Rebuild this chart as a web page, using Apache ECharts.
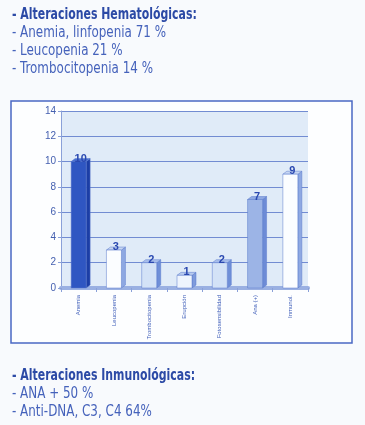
<!DOCTYPE html>
<html><head><meta charset="utf-8">
<script src="https://cdn.jsdelivr.net/npm/echarts@6/dist/echarts.min.js"></script>
<style>html,body{margin:0;padding:0;background:#f8fafd;}#c{width:365px;height:425px;}</style>
</head><body><div id="c"></div>
<script>
const categories = ['Anemia', 'Leucopenia', 'Trombocitopenia', 'Erupción', 'Fotosensibilidad', 'Ana (+)', 'Inmunol.'];
const values = [10, 3, 2, 1, 2, 7, 9];
const yTicks = [0, 2, 4, 6, 8, 10, 12, 14];
const topLines = ['- Alteraciones Hematológicas:', '- Anemia, linfopenia 71 %', '- Leucopenia 21 %', '- Trombocitopenia 14 %'];
const bottomLines = ['- Alteraciones Inmunológicas:', '- ANA + 50 %', '- Anti-DNA, C3, C4 64%'];

const faceColors = ['#2f56c2', '#fbfdff', '#d3e2f7', '#eef4fd', '#d3e2f7', '#9cb4e6', '#fbfdff'];
const sideColors = ['#1c3ea6', '#8ea8e2', '#6f8fd8', '#7f9bdc', '#6f8fd8', '#6d8bd6', '#8ea8e2'];
const topColors  = ['#4a6fd0', '#c7d6f2', '#a9bfec', '#b8cbef', '#a9bfec', '#8ea8e2', '#c7d6f2'];

const chart = echarts.init(document.getElementById('c'));
const FONT = '"Liberation Sans Narrow","DejaVu Sans Condensed","Liberation Sans",sans-serif';
const graphics = [];
graphics.push({type:'rect', shape:{x:11, y:101, width:341, height:242}, style:{fill:'#fdfeff', stroke:'#4a68c4', lineWidth:1.5}, z:-10});
function addLines(lines, y0, step){
  lines.forEach((t,i)=>{
    const bold = i===0;
    graphics.push({type:'text', x:12, y:y0 + i*step, scaleX: bold?0.81:0.885,
      style:{text:t, font:(bold?'bold ':'')+'15px '+FONT, fill: bold?'#2c4aa6':'#4562bb', textVerticalAlign:'middle', verticalAlign:'middle'}});
  });
}
addLines(topLines, 15, 18.2);
addLines(bottomLines, 376, 18);

chart.setOption({
  animation:false,
  backgroundColor:'#f8fafd',
  graphic: graphics,
  grid:{left:61, right:57, top:111, bottom:137, show:true, backgroundColor:'#e0ebf8', borderWidth:0},
  xAxis:{type:'category', data:categories,
    axisLine:{show:true, lineStyle:{color:'#9ab0e2', width:4}},
    axisTick:{show:true, length:4, lineStyle:{color:'#8aa0d8'}},
    axisLabel:{rotate:90, fontSize:6, color:'#3d5cb8', margin:7, fontFamily:'Liberation Sans'}},
  yAxis:{type:'value', min:0, max:14, interval:2,
    axisLine:{show:true, lineStyle:{color:'#8aa0d8'}},
    axisTick:{show:true, length:3, lineStyle:{color:'#8aa0d8'}},
    axisLabel:{fontSize:10, color:'#4560b0', margin:5, fontFamily:'Liberation Sans'},
    splitLine:{show:true, lineStyle:{color:'#728cd2', width:1}}},
  series:[{
    type:'custom',
    data: values.map((v,i)=>[i,v]),
    renderItem:function(params, api){
      const i = api.value(0), v = api.value(1);
      const p = api.coord([i, v]);
      const p0 = api.coord([i, 0]);
      const w = 15, dx = 4, dy = 3;
      const x0 = p[0] - w/2, x1 = p[0] + w/2;
      const yt = p[1], yb = p0[1];
      return {type:'group', children:[
        {type:'polygon', shape:{points:[[x1,yb],[x1,yt],[x1+dx,yt-dy],[x1+dx,yb-dy]]}, style:{fill:sideColors[i], stroke:'#5a7acc', lineWidth:0.5}},
        {type:'polygon', shape:{points:[[x0,yt],[x1,yt],[x1+dx,yt-dy],[x0+dx,yt-dy]]}, style:{fill:topColors[i], stroke:'#5a7acc', lineWidth:0.5}},
        {type:'rect', shape:{x:x0, y:yt, width:w, height:yb-yt}, style:{fill:faceColors[i], stroke:'#5a7acc', lineWidth:0.5}},
        {type:'text', style:{text:String(v), x:p[0]+2, y:yt-3, align:'center', verticalAlign:'middle', font:'bold 11px "Liberation Sans",sans-serif', fill:'#2a48b0'}}
      ]};
    }
  }]
});
</script></body></html>
